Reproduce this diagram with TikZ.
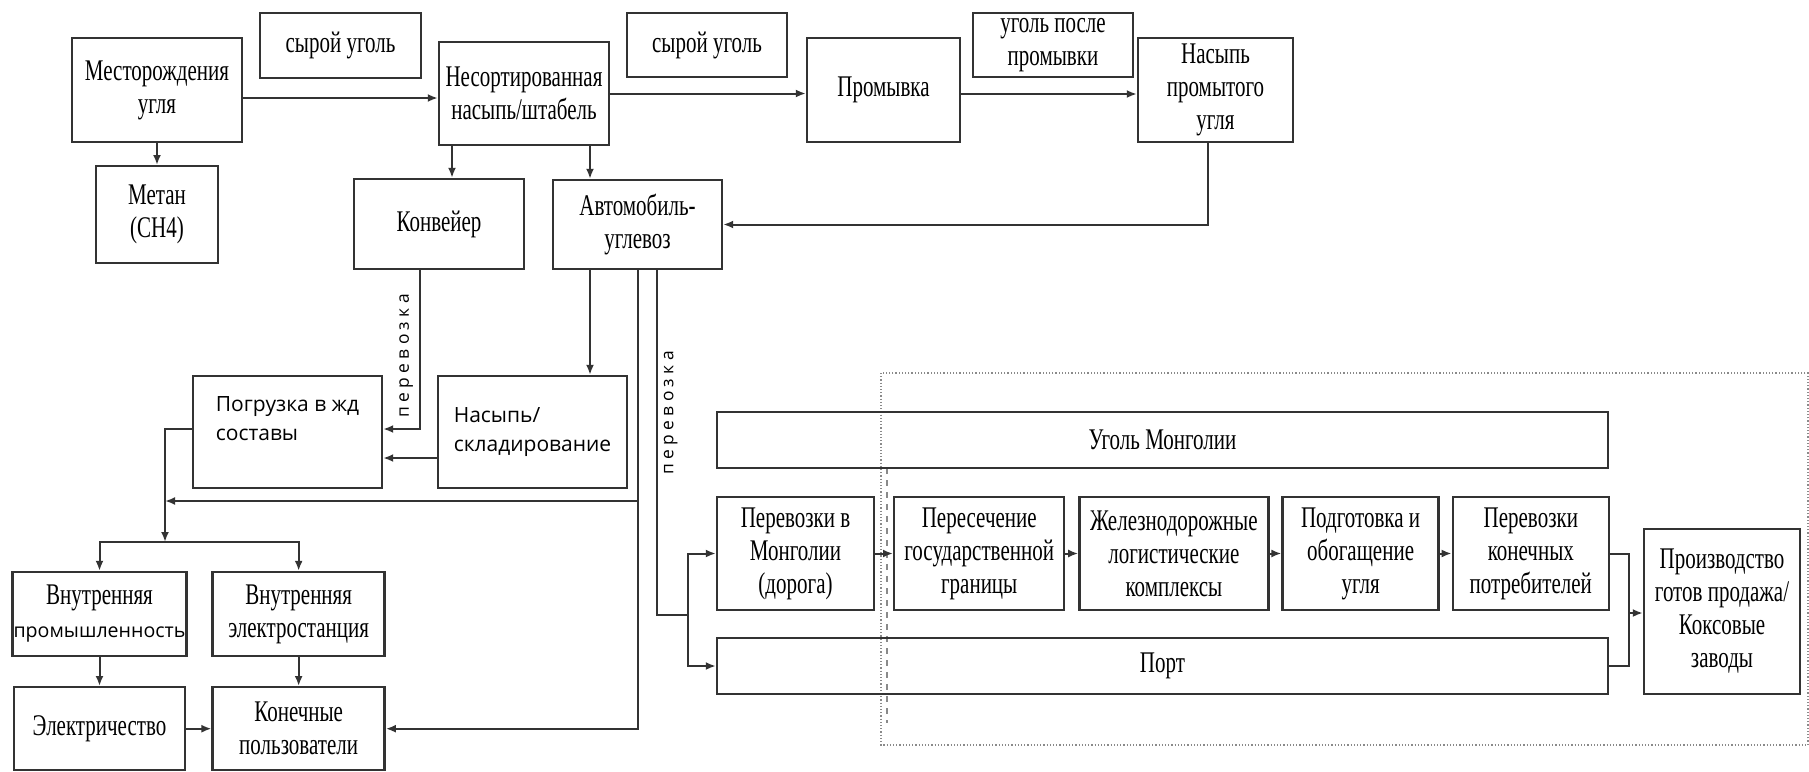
\documentclass[tikz,border=0pt]{standalone}
\usepackage{fontspec}
\setmainfont{Liberation Serif}[FakeStretch=0.7]
\setsansfont{Open Sans}
\newfontfamily\spacedsans{Open Sans}[LetterSpace=25]
\usepackage{tikz}
\usetikzlibrary{positioning,arrows.meta}
\definecolor{edge}{HTML}{333333}
\definecolor{framegray}{HTML}{8A8A8A}

\begin{document}
\begin{tikzpicture}[
  x=0.5pt,y=-0.5pt,
  >={Latex[length=5pt,width=4pt]},
  box/.style={draw=edge,line width=1.2pt,align=center,inner sep=0.5pt,
              font=\fontsize{15}{16.5}\selectfont},
  wh/.style 2 args={minimum width=#1pt,minimum height=#2pt},
  sbox/.style={box,align=left,font=\sffamily\fontsize{10.5}{14.5}\selectfont},
  link/.style={draw=edge,line width=1pt},
  haul/.style={font=\spacedsans\fontsize{8.7}{10}\selectfont,rotate=90,inner sep=3pt}
]
  \fill[white] (0,0) rectangle (1809,771);
  \useasboundingbox (0,0) rectangle (1809,771);

  \node[box,wh={85}{52}] (mest) at (157,90) {Месторождения\\угля};
  \node[box,wh={80.5}{32.5}] (raw1) at (340.5,45.5) {сырой уголь};
  \node[box,wh={85}{51.5}] (nesort) at (524,93.5) {Несортированная\\насыпь/штабель};
  \node[box,wh={80}{32}] (raw2) at (707,45) {сырой уголь};
  \node[box,wh={76.5}{52}] (wash) at (883.5,90) {Промывка};
  \node[box,wh={80}{32}] (washed) at (1053,45) {уголь после\\промывки};
  \node[box,wh={77.5}{52}] (pile) at (1215.5,90) {Насыпь\\промытого\\угля};
  \node[box,wh={61}{48.5},below=10.9pt of mest] (methane) {Метан\\(CH4)};
  \node[box,wh={85}{45}] (conv) at (439,224) {Конвейер};
  \node[box,wh={84.5}{44.5}] (truck) at (637.5,224.5) {Автомобиль-\\углевоз};
  \node[sbox,wh={94.5}{56},text depth=14pt] (rail) at (287.5,432) {Погрузка в жд\\составы};
  \node[sbox,wh={94.5}{56}] (store) at (532.5,432) {Насыпь/\\складирование};

  \node[box,wh={85.5}{42}] (ind) at (99.5,614) {Внутренняя\\{\sffamily\fontsize{9.8}{16.5}\selectfont промышленность}};
  \node[box,wh={86}{42},right=11.9pt of ind] (plant) {Внутренняя\\электростанция};
  \node[box,wh={85.5}{41.5},below=14.4pt of ind] (elec) {Электричество};
  \node[box,wh={86}{41.5},below=14.4pt of plant] (users) {Конечные\\пользователи};

  \draw[framegray,densely dotted,line width=0.6pt] (881,373) rectangle (1808,745);
  \draw[framegray,dashed,line width=0.9pt] (887,468) -- (887,723);

  \node[box,wh={445.5}{28}] (mongol) at (1162.5,440) {Уголь Монголии};
  \node[box,wh={78.5}{56.5}] (road) at (795.5,553.5) {Перевозки в\\Монголии\\(дорога)};
  \node[box,wh={85}{56.5},right=8.9pt of road] (border) {Пересечение\\государственной\\границы};
  \node[box,wh={94.5}{56.5},right=6.4pt of border] (railhub) {Железнодорожные\\логистические\\комплексы};
  \node[box,wh={78}{56.5},right=5.9pt of railhub] (prep) {Подготовка и\\обогащение\\угля};
  \node[box,wh={78}{56.5},right=5.9pt of prep] (endtr) {Перевозки\\конечных\\потребителей};
  \node[box,wh={445.5}{28}] (port) at (1162.5,666) {Порт};
  \node[box,wh={78}{82.5}] (coke) at (1722,611.5) {Производство\\готов продажа/\\Коксовые\\заводы};

  \coordinate (join) at (165,501);
  \coordinate (fork) at (165,542);
  \coordinate (hub) at (688,615);
  \coordinate (merge) at (1629,613);

  \draw[link,->] ([yshift=-4pt]mest.east) -- ([yshift=-4pt]mest.east -| nesort.west);
  \draw[link,->] (nesort.east) -- (nesort.east -| wash.west);
  \draw[link,->] ([yshift=-2pt]wash.east) -- ([yshift=-2pt]wash.east -| pile.west);
  \draw[link,->] (mest.south -| methane.north) -- (methane.north);
  \draw[link,->] ([xshift=-36pt]nesort.south) -- ([xshift=-36pt]nesort.south |- conv.north);
  \draw[link,->] ([xshift=33pt]nesort.south) -- ([xshift=33pt]nesort.south |- truck.north);
  \draw[link,->] ([xshift=-3.75pt]pile.south) |- (truck.east);
  \draw[link,->] ([xshift=-9.5pt]conv.south) |- ([yshift=1.5pt]rail.east)
    node[haul,pos=0.27,anchor=south] {перевозка};
  \draw[link,->] ([xshift=-23.75pt]truck.south) -- ([xshift=-23.75pt]truck.south |- store.north);
  \draw[link,->] ([yshift=-13pt]store.west) -- ([yshift=-13pt]store.west -| rail.east);
  \draw[link,->] ([yshift=1.5pt]rail.west) -| (fork);
  \draw[link,->] (fork) -| (ind.north);
  \draw[link,->] (fork) -| (plant.north);
  \draw[link,->] (truck.south) |- (users.east);
  \draw[link,->] (truck.south |- join) -- (join);
  \draw[link] ([xshift=9.75pt]truck.south) |- (hub)
    node[haul,pos=0.207,anchor=north] {перевозка};
  \draw[link,->] (hub) |- (road.west);
  \draw[link,->] (hub) |- (port.west);
  \draw[link,->] (ind) -- (elec);
  \draw[link,->] (plant) -- (users);
  \draw[link,->] (elec) -- (users);
  \draw[link,->] (road) -- (border);
  \draw[link,->] (border) -- (railhub);
  \draw[link,->] (railhub) -- (prep);
  \draw[link,->] (prep) -- (endtr);
  \draw[link] (endtr.east) -| (merge) |- (port.east);
  \draw[link,->] (merge) -- (merge -| coke.west);
\end{tikzpicture}
\end{document}
